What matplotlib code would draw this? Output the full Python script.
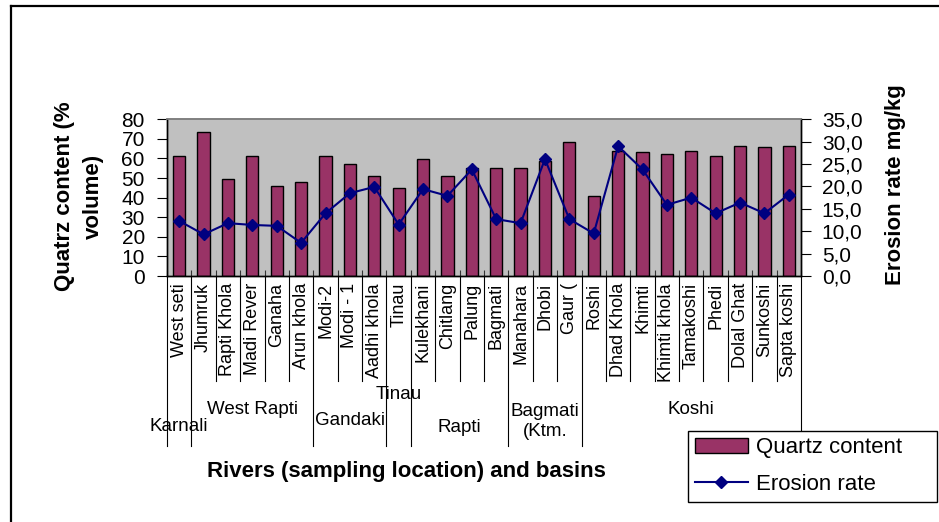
import matplotlib.pyplot as plt
import numpy as np
from matplotlib.lines import Line2D
from matplotlib.ticker import FuncFormatter

rivers = [
    "West seti", "Jhumruk", "Rapti Khola", "Madi Rever", "Ganaha", "Arun khola",
    "Modi-2", "Modi - 1", "Aadhi khola", "Tinau", "Kulekhani", "Chitlang",
    "Palung", "Bagmati", "Manahara", "Dhobi", "Gaur (", "Roshi", "Dhad Khola",
    "Khimti", "Khimti khola", "Tamakoshi", "Phedi", "Dolal Ghat", "Sunkoshi",
    "Sapta koshi",
]
quartz = [61.3, 73.4, 49.5, 61.3, 46.0, 47.8, 61.3, 57.2, 51.1, 45.1, 59.8, 51.1,
          55.3, 55.3, 55.3, 58.7, 68.3, 40.9, 64.0, 63.2, 62.3, 63.8, 61.3, 66.4,
          65.7, 66.4]
erosion = [12.3, 9.3, 11.8, 11.4, 11.2, 7.4, 14.0, 18.5, 19.9, 11.5, 19.4, 17.9,
           23.8, 12.7, 11.8, 26.1, 12.7, 9.5, 29.0, 23.8, 15.9, 17.5, 14.0, 16.4,
           14.0, 18.2]
basins = ["Karnali", "West Rapti", "Gandaki", "Tinau", "Rapti", "Bagmati\n(Ktm.", "Koshi"]
basin_sizes = [1, 5, 3, 1, 4, 3, 9]

# staggered label heights (axes fraction below the x axis), like the original
basin_label_y = [-0.96, -0.85, -0.92, -0.755, -0.97, -0.93, -0.85]

plt.rcParams["font.family"] = ["Liberation Sans", "DejaVu Sans"]

W, H = 939, 522
fig = plt.figure(figsize=(W / 100, H / 100), dpi=100)
ax = fig.add_axes([167 / W, 1 - 276 / H, 634 / W, 156.7 / H])

x = np.arange(len(rivers))
bars = ax.bar(x, quartz, width=0.5, color="#993366", edgecolor="black",
              linewidth=1, label="Quartz content", zorder=2)
ax.set_xlim(-0.5, len(rivers) - 0.5)
ax.set_ylim(0, 80)
ax.set_yticks(np.arange(0, 81, 10))
ax.set_facecolor("#C0C0C0")
ax.tick_params(axis="y", direction="out", length=7, labelsize=15, pad=9)
ax.set_xticks(np.arange(-0.5, len(rivers), 1))
ax.set_xticklabels([])
ax.tick_params(axis="x", direction="in", length=4, width=0.8, color="#333333")

ax2 = ax.twinx()
line, = ax2.plot(x, erosion, color="#000080", marker="D", markersize=6.5,
                 lw=1.5, label="Erosion rate", zorder=3)
ax2.set_ylim(0, 35)
ax2.set_yticks(np.arange(0, 36, 5))
ax2.yaxis.set_major_formatter(FuncFormatter(lambda v, p: f"{v:.1f}".replace(".", ",")))
ax2.tick_params(axis="y", direction="out", length=7, labelsize=15, pad=8)

for a in (ax, ax2):
    a.spines["top"].set_color("#808080")
    a.spines["top"].set_linewidth(1.2)
    for s in ("left", "right", "bottom"):
        a.spines[s].set_color("black")
        a.spines[s].set_linewidth(1)

# river names under the axis
xt = ax.get_xaxis_transform()
for i, name in enumerate(rivers):
    ax.text(i, -0.045, name, transform=xt, rotation=90, ha="center", va="top",
            fontsize=13)

# separators: short between rivers, long between basins
edges = np.concatenate([[0], np.cumsum(basin_sizes)])
for b in range(len(rivers) + 1):
    depth = -1.083 if b in edges else -0.67
    ax.plot([b - 0.5, b - 0.5], [0, depth], transform=xt, clip_on=False,
            color="black", lw=0.8)

for k, name in enumerate(basins):
    centre = (edges[k] + edges[k + 1]) / 2 - 0.5
    ax.text(centre, basin_label_y[k], name, transform=xt, ha="center",
            va="center", fontsize=13.5, multialignment="center", linespacing=1.2)

# axis titles
fig.text(79 / W, 1 - 196 / H, "Quatrz content (%\nvolume)", rotation=90,
         ha="center", va="center", fontsize=16, fontweight="bold",
         multialignment="center", linespacing=1.45)
fig.text(895 / W, 1 - 185 / H, "Erosion rate mg/kg", rotation=90, ha="center",
         va="center", fontsize=16, fontweight="bold")
fig.text(406 / W, 1 - 472 / H, "Rivers (sampling location) and basins",
         ha="center", va="center", fontsize=16, fontweight="bold")

leg = fig.legend([bars, line], ["Quartz content", "Erosion rate"],
                 loc="upper left", bbox_to_anchor=(688 / W, 1 - 430.7 / H, 249 / W, 0),
                 mode="expand", borderaxespad=0, fontsize=16, fancybox=False,
                 framealpha=1, edgecolor="black", borderpad=0.3,
                 labelspacing=0.7, handlelength=2.4, handleheight=0.6,
                 handletextpad=0.35)
leg.get_frame().set_linewidth(1)

# chart border (left and top edges visible)
fig.add_artist(Line2D([11 / W, 11 / W], [0, 1 - 6 / H], transform=fig.transFigure,
                      color="black", lw=1.6))
fig.add_artist(Line2D([11 / W, 1], [1 - 6 / H, 1 - 6 / H], transform=fig.transFigure,
                      color="black", lw=1.6))

fig.savefig("out.png", dpi=100)
